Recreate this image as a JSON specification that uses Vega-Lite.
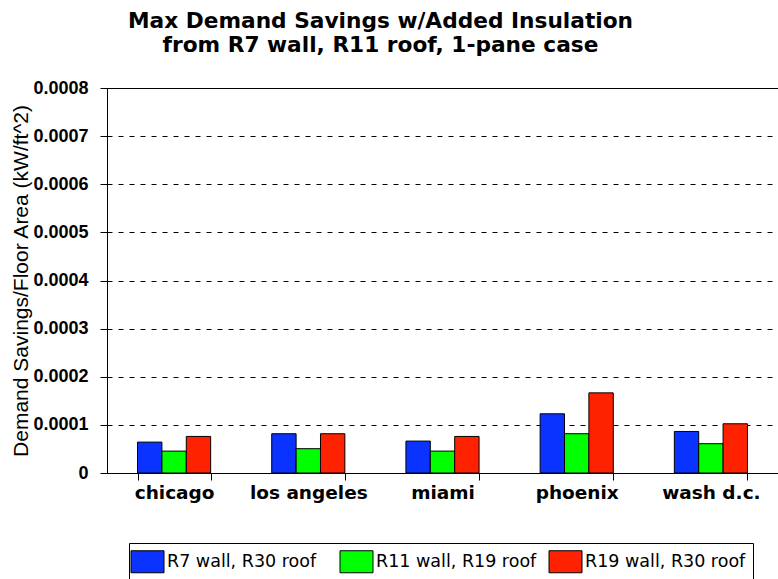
{
  "$schema": "https://vega.github.io/schema/vega-lite/v6.json",
  "width": 671,
  "height": 385,
  "autosize": {"type": "none"},
  "padding": {"left": 107, "top": 88, "right": 0, "bottom": 106},
  "background": "white",
  "title": {
    "text": ["Max Demand Savings w/Added Insulation", "from R7 wall, R11 roof, 1-pane case"],
    "font": "DejaVu Sans",
    "fontSize": 21.7,
    "fontWeight": "bold",
    "color": "black",
    "anchor": "middle",
    "frame": "group",
    "dx": -62,
    "lineHeight": 24,
    "offset": 22
  },
  "config": {
    "view": {"stroke": "black", "strokeWidth": 1},
    "axis": {"domainColor": "black", "tickColor": "black", "labelColor": "black", "titleColor": "black"}
  },
  "data": {
    "values": [
      {"city": "chicago", "case": "R7 wall, R30 roof", "value": 0.0000642},
      {"city": "chicago", "case": "R11 wall, R19 roof", "value": 0.0000455},
      {"city": "chicago", "case": "R19 wall, R30 roof", "value": 0.000076},
      {"city": "los angeles", "case": "R7 wall, R30 roof", "value": 0.0000816},
      {"city": "los angeles", "case": "R11 wall, R19 roof", "value": 0.0000505},
      {"city": "los angeles", "case": "R19 wall, R30 roof", "value": 0.0000816},
      {"city": "miami", "case": "R7 wall, R30 roof", "value": 0.0000663},
      {"city": "miami", "case": "R11 wall, R19 roof", "value": 0.0000455},
      {"city": "miami", "case": "R19 wall, R30 roof", "value": 0.000076},
      {"city": "phoenix", "case": "R7 wall, R30 roof", "value": 0.000123},
      {"city": "phoenix", "case": "R11 wall, R19 roof", "value": 0.0000816},
      {"city": "phoenix", "case": "R19 wall, R30 roof", "value": 0.0001665},
      {"city": "wash d.c.", "case": "R7 wall, R30 roof", "value": 0.0000863},
      {"city": "wash d.c.", "case": "R11 wall, R19 roof", "value": 0.0000609},
      {"city": "wash d.c.", "case": "R19 wall, R30 roof", "value": 0.0001023}
    ]
  },
  "mark": {"type": "bar", "stroke": "black", "strokeWidth": 1},
  "encoding": {
    "x": {
      "field": "city",
      "type": "nominal",
      "sort": null,
      "scale": {"paddingInner": 0.455, "paddingOuter": 0.2275},
      "axis": {
        "title": null,
        "labelAngle": 0,
        "labelFont": "DejaVu Sans",
        "labelFontSize": 18.5,
        "labelFontWeight": "bold",
        "labelPadding": 3,
        "tickBand": "extent",
        "tickSize": 7,
        "domainWidth": 1
      }
    },
    "xOffset": {
      "field": "case",
      "type": "nominal",
      "sort": ["R7 wall, R30 roof", "R11 wall, R19 roof", "R19 wall, R30 roof"],
      "scale": {"paddingInner": 0, "paddingOuter": 0}
    },
    "y": {
      "field": "value",
      "type": "quantitative",
      "scale": {"domain": [0, 0.0008], "nice": false},
      "axis": {
        "title": "Demand Savings/Floor Area (kW/ft^2)",
        "titleFont": "Liberation Sans",
        "titleFontSize": 21,
        "titleFontWeight": "normal",
        "titlePadding": 1,
        "values": [0, 0.0001, 0.0002, 0.0003, 0.0004, 0.0005, 0.0006, 0.0007, 0.0008],
        "labelExpr": "datum.value == 0 ? '0' : format(datum.value, '.4f')",
        "labelFont": "Liberation Sans",
        "labelFontSize": 18,
        "labelFontWeight": "bold",
        "labelPadding": 12,
        "tickSize": 7,
        "grid": true,
        "gridColor": "black",
        "gridDash": [5, 6],
        "gridWidth": 1
      }
    },
    "color": {
      "field": "case",
      "type": "nominal",
      "sort": ["R7 wall, R30 roof", "R11 wall, R19 roof", "R19 wall, R30 roof"],
      "scale": {"domain": ["R7 wall, R30 roof", "R11 wall, R19 roof", "R19 wall, R30 roof"], "range": ["#0a33ff", "#00ff00", "#ff2200"]},
      "legend": {
        "title": null,
        "orient": "none",
        "legendX": 22,
        "legendY": 455,
        "direction": "horizontal",
        "columns": 3,
        "gridAlign": "all",
        "columnPadding": 10,
        "padding": 7,
        "strokeColor": "black",
        "symbolType": "M-1.5,-1H1.5V1H-1.5Z",
        "symbolSize": 484,
        "symbolStrokeColor": "black",
        "symbolStrokeWidth": 1,
        "symbolOpacity": 1,
        "labelFont": "DejaVu Sans",
        "labelFontSize": 17.5,
        "labelColor": "black",
        "labelOffset": 8,
        "labelLimit": 300
      }
    }
  }
}
